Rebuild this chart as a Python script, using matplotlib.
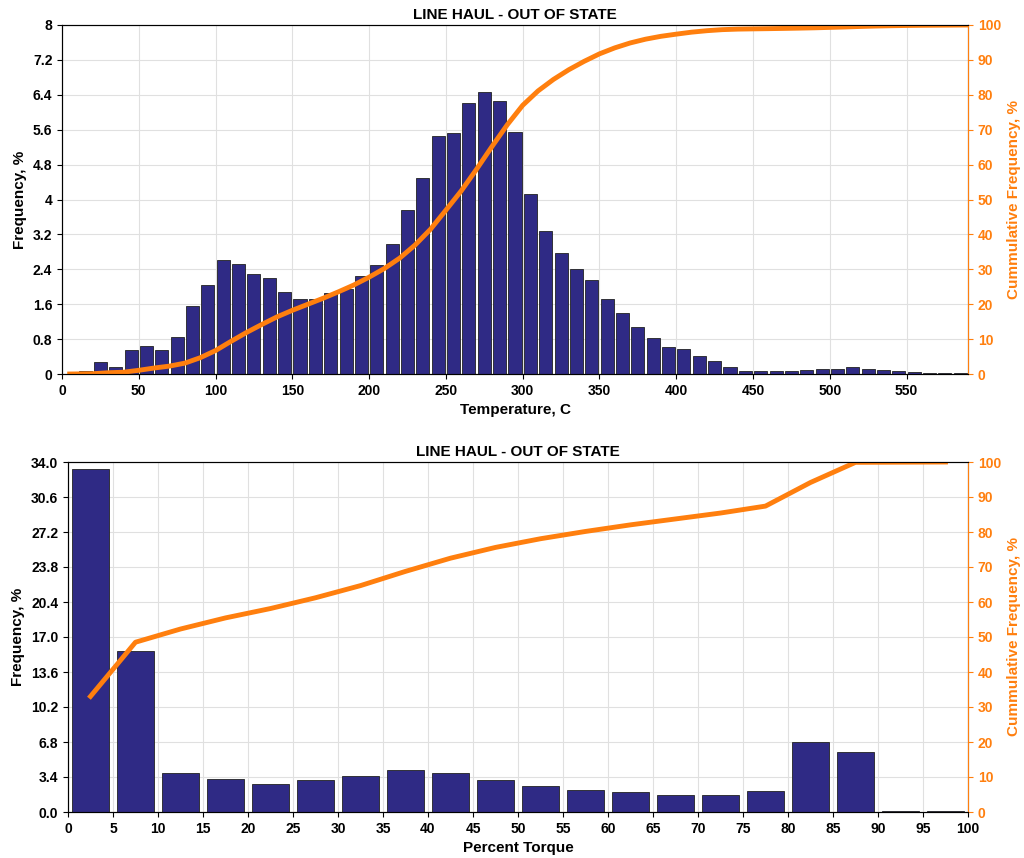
import numpy as np
import matplotlib
matplotlib.use("Agg")
import matplotlib.pyplot as plt

temp_centers = list(range(15, 590, 10))
temp_freq = [0.08,0.28,0.15,0.55,0.65,0.55,0.85,1.55,2.05,2.62,2.52,2.3,2.2,1.88,1.72,1.72,1.85,1.95,2.25,
             2.5,2.98,3.75,4.5,5.45,5.52,6.22,6.47,6.25,5.55,4.12,3.28,2.78,2.4,2.15,1.72,1.4,1.08,0.82,0.62,
             0.57,0.42,0.30,0.15,0.07,0.06,0.07,0.08,0.09,0.12,0.12,0.15,0.12,0.09,0.07,0.05,0.03,0.03,0.03]
torque_centers = [2.5+5*i for i in range(20)]
torque_freq = [33.3,15.6,3.8,3.2,2.7,3.1,3.5,4.1,3.8,3.1,2.5,2.1,1.9,1.7,1.7,2.0,6.8,5.8,0.05,0.05]

BAR = "#2f2a85"
OR = "#ff7f0e"
plt.rcParams['font.family'] = ['Liberation Sans', 'DejaVu Sans']
fig = plt.figure(figsize=(10.24, 8.58), dpi=100)

def style(ax, ax2):
    ax.grid(True, color="#e0e0e0", lw=0.8)
    ax.set_axisbelow(True)
    for s in ax.spines.values():
        s.set_color("#333333")
    ax2.spines['right'].set_color(OR)
    ax2.tick_params(axis='y', colors=OR, labelsize=10)
    for l in ax2.get_yticklabels():
        l.set_fontweight('bold')
    ax.tick_params(labelsize=10)
    for l in ax.get_xticklabels()+ax.get_yticklabels():
        l.set_fontweight('bold')

# top
ax = fig.add_axes([62/1024, 1-374/858, 906/1024, 349/858])
ax.bar(temp_centers, temp_freq, width=8.5, color=BAR, edgecolor="#222222", lw=0.6)
ax.set_xlim(0, 590); ax.set_ylim(0, 8)
ax.set_yticks(np.arange(0, 8.01, 0.8))
ax.set_yticklabels(["0","0.8","1.6","2.4","3.2","4","4.8","5.6","6.4","7.2","8"])
ax.set_xticks(range(0, 560, 50))
ax.set_xlabel("Temperature, C", fontweight='bold', fontsize=11)
ax.set_ylabel("Frequency, %", fontweight='bold', fontsize=11)
ax.set_title("LINE HAUL - OUT OF STATE", fontweight='bold', fontsize=11, pad=4)
ax2 = ax.twinx()
cum = np.cumsum(temp_freq); cum = cum/cum[-1]*100
xs = [5] + [c+5 for c in temp_centers]
ax2.plot(xs, np.concatenate([[0], cum]), color=OR, lw=3.5)
ax2.set_ylim(0, 100); ax2.set_yticks(range(0, 101, 10))
ax2.set_ylabel("Cummulative Frequency, %", color=OR, fontweight='bold', fontsize=11)
style(ax, ax2)

# bottom
bx = fig.add_axes([68/1024, 1-812/858, 900/1024, 350/858])
bx.bar(torque_centers, torque_freq, width=4.2, color=BAR, edgecolor="#222222", lw=0.6)
bx.set_xlim(0, 100); bx.set_ylim(0, 34)
bx.set_yticks(np.arange(0, 34.01, 3.4))
bx.set_yticklabels([f"{v:.1f}" for v in np.arange(0, 34.01, 3.4)])
bx.set_xticks(range(0, 101, 5))
bx.set_xlabel("Percent Torque", fontweight='bold', fontsize=11)
bx.set_ylabel("Frequency, %", fontweight='bold', fontsize=11)
bx.set_title("LINE HAUL - OUT OF STATE", fontweight='bold', fontsize=11, pad=4)
bx2 = bx.twinx()
c2 = np.cumsum(torque_freq); c2 = c2/c2[-1]*100
bx2.plot(torque_centers, c2, color=OR, lw=3.5)
bx2.set_ylim(0, 100); bx2.set_yticks(range(0, 101, 10))
bx2.set_ylabel("Cummulative Frequency, %", color=OR, fontweight='bold', fontsize=11)
style(bx, bx2)

fig.savefig("out.png", dpi=100)
